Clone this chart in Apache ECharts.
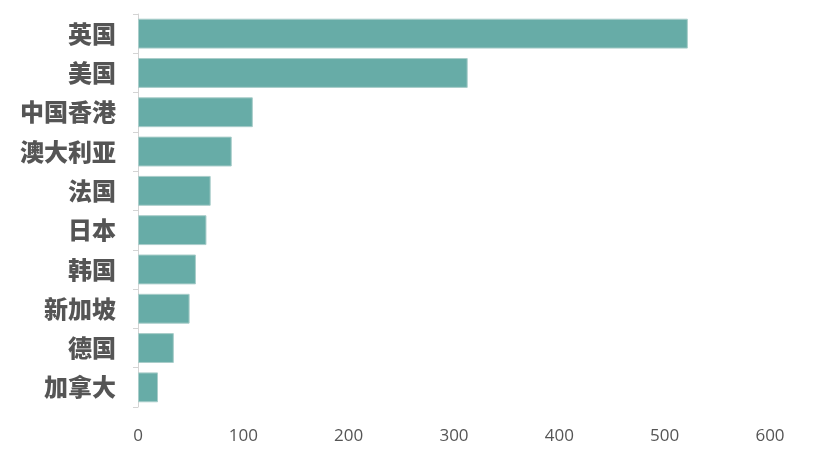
<!DOCTYPE html>
<html><head><meta charset="utf-8">
<script src="https://cdn.jsdelivr.net/npm/echarts@6/dist/echarts.min.js"></script>
<style>html,body{margin:0;padding:0;background:#fff}#c{width:819px;height:458px}</style>
</head><body><div id="c"></div>
<script>
const categories = ['英国','美国','中国香港','澳大利亚','法国','日本','韩国','新加坡','德国','加拿大'];
const values = [522, 313, 109, 89, 69, 65, 55, 49, 34, 19];
const xTicks = {min: 0, max: 600, interval: 100};

const chart = echarts.init(document.getElementById('c'));
chart.setOption({
  animation: false,
  backgroundColor: '#ffffff',
  grid: {left: 138, right: 49, top: 14, bottom: 51, containLabel: false},
  xAxis: {
    type: 'value', min: xTicks.min, max: xTicks.max, interval: xTicks.interval,
    axisLine: {show: false}, axisTick: {show: false}, splitLine: {show: false},
    axisLabel: {color: '#555555', fontSize: 17, fontFamily: 'Open Sans', margin: 21}
  },
  yAxis: {
    type: 'category', data: categories, inverse: true,
    axisLine: {show: true, lineStyle: {color: '#d4d4d4', width: 1}},
    axisTick: {show: true, length: 5, lineStyle: {color: '#d4d4d4'}},
    axisLabel: {color: '#555555', fontSize: 24, fontWeight: 900, fontFamily: 'Noto Sans CJK SC', margin: 22}
  },
  series: [{
    type: 'bar', data: values, barCategoryGap: '24%',
    itemStyle: {color: '#67aca7', borderColor: '#a9cdca', borderWidth: 1}
  }]
});
</script></body></html>
